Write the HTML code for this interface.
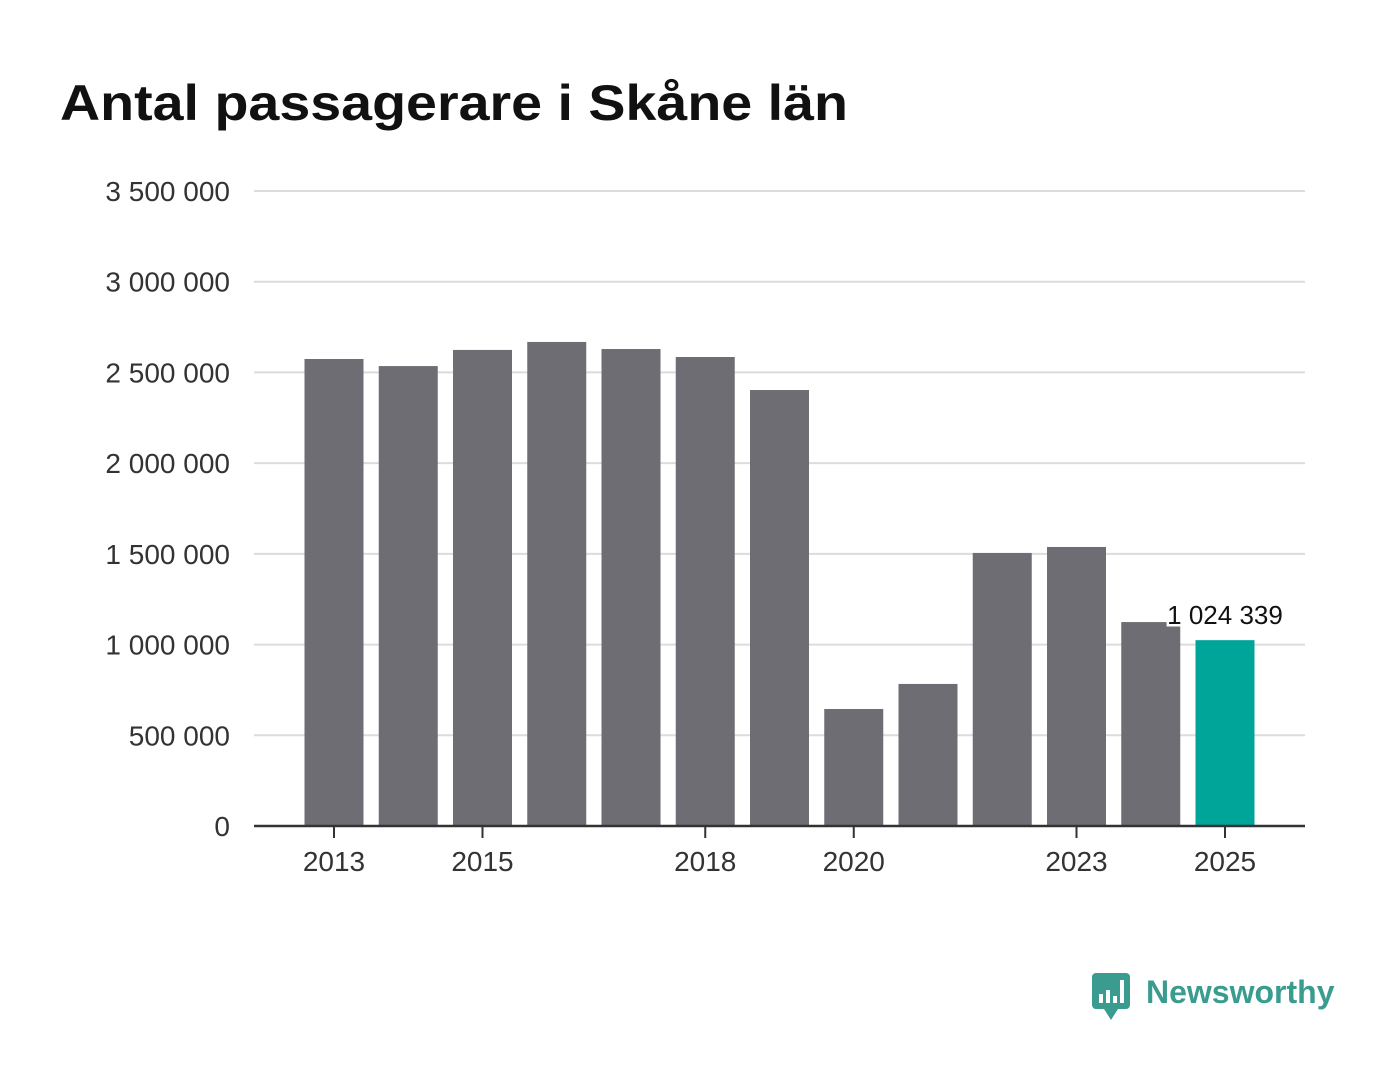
<!DOCTYPE html>
<html><head><meta charset="utf-8">
<style>
body{margin:0;background:#fff;width:1400px;height:1080px;overflow:hidden;font-family:"Liberation Sans",sans-serif;}
</style></head>
<body>
<svg id="c" width="1400" height="1080" xmlns="http://www.w3.org/2000/svg">
<text x="60" y="120" font-size="50" font-weight="bold" fill="#111" textLength="788" lengthAdjust="spacingAndGlyphs">Antal passagerare i Skåne län</text>
<g id="grid"></g><g id="bars"></g><g id="xax"></g>
<g>
<rect x="1092" y="973" width="38" height="36" rx="4" fill="#3a9c8f"/>
<polygon points="1104,1009 1118,1009 1111,1020" fill="#3a9c8f"/>
<rect x="1099" y="994" width="4" height="9" fill="#fff"/><rect x="1106" y="990" width="4" height="13" fill="#fff"/><rect x="1113" y="996" width="4" height="7" fill="#fff"/><rect x="1120" y="980" width="4" height="23" fill="#fff"/>
<text x="1146" y="1003" font-size="32" font-weight="bold" fill="#3a9c8f">Newsworthy</text>
</g>
</svg>
<script>
const years=[2013,2014,2015,2016,2017,2018,2019,2020,2021,2022,2023,2024,2025];
const values=[2574000,2535000,2624000,2668000,2629000,2585000,2403000,645000,783000,1505000,1538000,1124000,1024339];
const yTicks=[0,500000,1000000,1500000,2000000,2500000,3000000,3500000];
const yTickLabels=["0","500 000","1 000 000","1 500 000","2 000 000","2 500 000","3 000 000","3 500 000"];
const xTickYears=[2013,2015,2018,2020,2023,2025];
const ns="http://www.w3.org/2000/svg";
const y=v=>826-v/3500000*635;
const x=yr=>334+(yr-2013)*74.25;
function mk(t,a,p,txt){const e=document.createElementNS(ns,t);for(const k in a)e.setAttribute(k,a[k]);if(txt!=null)e.textContent=txt;p.appendChild(e);return e;}
const G=document.getElementById('grid'),B=document.getElementById('bars'),X=document.getElementById('xax');
yTicks.forEach((t,i)=>{
 if(t>0){const l=mk('line',{x1:254,x2:1305,y1:y(t),y2:y(t),stroke:'#dcdcdc','stroke-width':2},G);
 
 }
 const tx=mk('text',{x:230,y:y(t)+10,'font-size':28,fill:'#333','text-anchor':'end'},G,yTickLabels[i]);
 
 
});
years.forEach((yr,i)=>{
 const last=i===years.length-1;
 const r=mk('rect',{x:x(yr)-29.5,y:y(values[i]),width:59,height:826-y(values[i]),fill:last?'#00a59a':'#6e6d73'},B);
 
 
 if(last){const t=mk('text',{x:x(yr),y:y(values[i])-16,'font-size':26,fill:'#111','text-anchor':'middle',stroke:'#fff','stroke-width':5,'paint-order':'stroke'},B,values[i].toLocaleString('en').replace(/,/g,' '));
 
 }
});
mk('line',{x1:254,x2:1305,y1:826,y2:826,stroke:'#333','stroke-width':2.5},X);
xTickYears.forEach(yr=>{
 mk('line',{x1:x(yr),x2:x(yr),y1:826,y2:838,stroke:'#333','stroke-width':2},X);
 const t=mk('text',{x:x(yr),y:871,'font-size':28,fill:'#333','text-anchor':'middle'},X,String(yr));
 
 
});
</script>
</body></html>
